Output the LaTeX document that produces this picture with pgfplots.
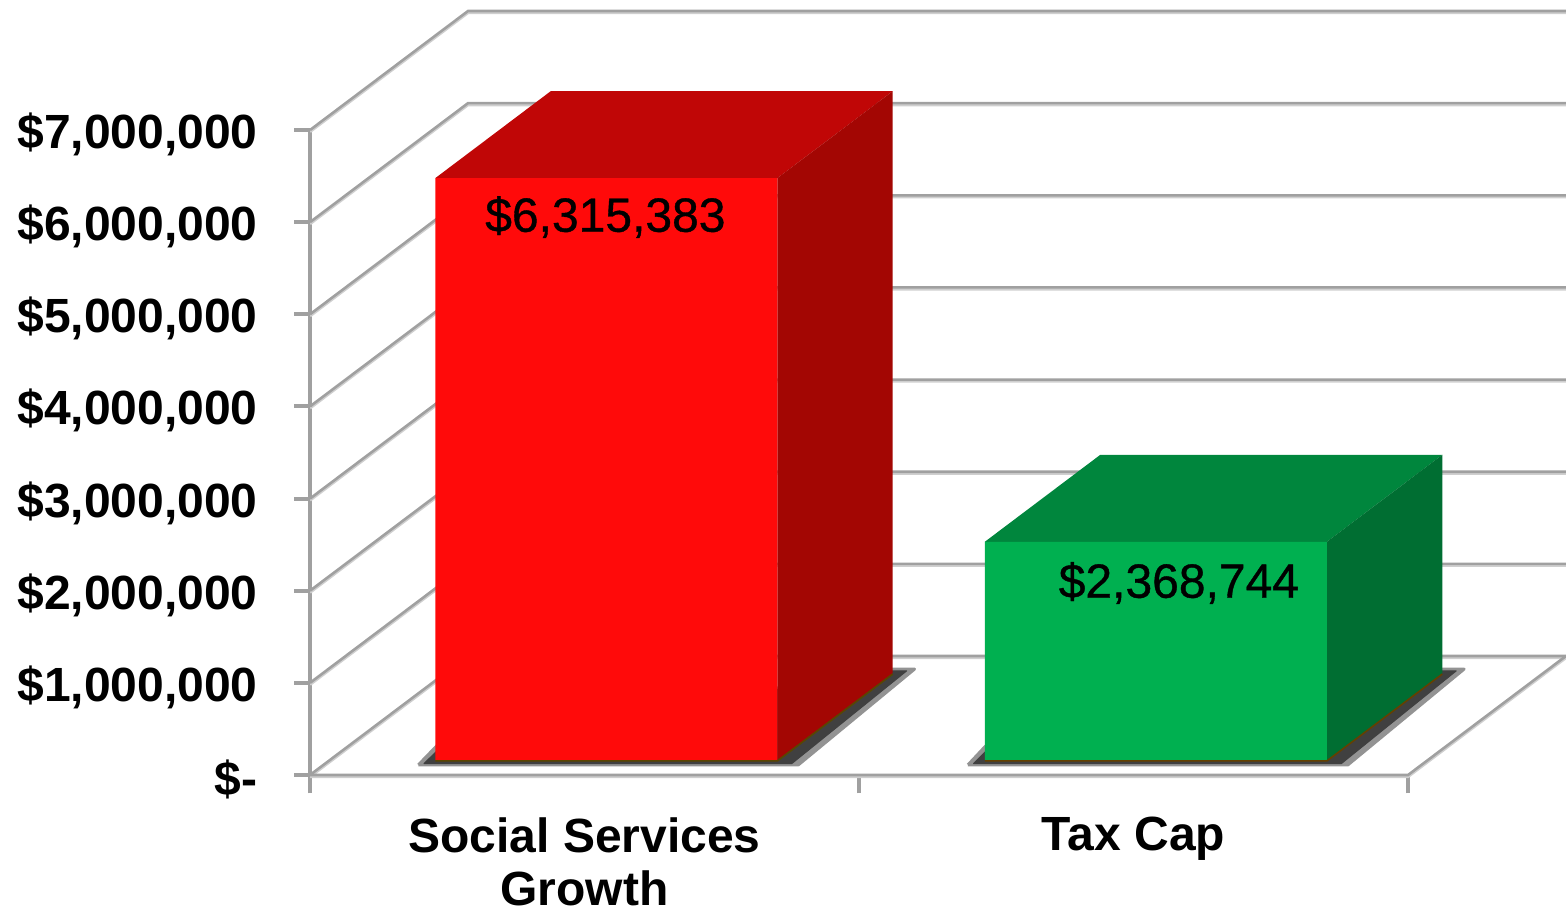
\documentclass[border=0pt]{standalone}
\usepackage{fontspec}
\setmainfont{Liberation Sans}
\newfontfamily\datafont[FakeBold=0.8]{Liberation Sans}
\usepackage{pgfplots}
\pgfplotsset{compat=1.18}
\definecolor{gridD}{HTML}{A0A0A0}
\definecolor{gridL}{HTML}{CFCFCF}
\definecolor{redF}{HTML}{FF0A0A}
\definecolor{redT}{HTML}{C00606}
\definecolor{redS}{HTML}{A30603}
\definecolor{grnF}{HTML}{00B050}
\definecolor{grnT}{HTML}{00863D}
\definecolor{grnS}{HTML}{006E32}
\newcommand{\grid}[1]{%
  \addplot3[gridL,line width=1.5pt,yshift=-0.8pt] coordinates {#1};
  \addplot3[gridD,line width=1.3pt] coordinates {#1};
}
\begin{document}
\begin{tikzpicture}
\begin{axis}[
  x={(274.5pt,0pt)}, y={(79pt,59.5pt)}, z={(0pt,46.07pt)},
  xmin=0.5, xmax=2.5, ymin=0, ymax=1, zmin=0, zmax=7,
  clip=false,
  axis line style={draw=none},
  major tick length=0pt,
  tick style={draw=none},
  no markers,
  xtick={1,2}, ytick=\empty,
  xticklabels={{Social Services\\Growth},{Tax Cap}},
  ztick={0,1,2,3,4,5,6,7},
  zticklabels={{\$-},{\$1,000,000},{\$2,000,000},{\$3,000,000},{\$4,000,000},{\$5,000,000},{\$6,000,000},{\$7,000,000}},
  ticklabel style={font=\fontsize{24}{26.5}\selectfont\bfseries,text=black,inner sep=0pt},
  zticklabel style={anchor=east,xshift=-26pt,yshift=-2.2pt},
  xticklabel style={align=center,anchor=north,yshift=-21pt},
]
\coordinate (o) at (axis cs:0.5,0,0);
% tick marks and axis edges
\addplot3[gridD,line width=1.7pt] coordinates {(0.5,0,-0.2)(0.5,0,7)};
\addplot3[gridD,line width=1.7pt] coordinates {(1.5,0,-0.2)(1.5,0,0)};
\addplot3[gridD,line width=1.7pt] coordinates {(2.5,0,-0.2)(2.5,0,0)};
% grid on the walls
\grid{(0.5,0,0)(0.5,1,0)(2.5,1,0)}
\grid{(0.5,0,1)(0.5,1,1)(2.5,1,1)}
\grid{(0.5,0,2)(0.5,1,2)(2.5,1,2)}
\grid{(0.5,0,3)(0.5,1,3)(2.5,1,3)}
\grid{(0.5,0,4)(0.5,1,4)(2.5,1,4)}
\grid{(0.5,0,5)(0.5,1,5)(2.5,1,5)}
\grid{(0.5,0,6)(0.5,1,6)(2.5,1,6)}
\grid{(0.5,0,7)(0.5,1,7)(2.5,1,7)}
\grid{(0.5,0,0)(2.5,0,0)(2.5,1,0)}
% z ticks
\addplot3[gridD,line width=2pt] coordinates {(0.471,0,0)(0.5,0,0)};
\addplot3[gridD,line width=2pt] coordinates {(0.471,0,1)(0.5,0,1)};
\addplot3[gridD,line width=2pt] coordinates {(0.471,0,2)(0.5,0,2)};
\addplot3[gridD,line width=2pt] coordinates {(0.471,0,3)(0.5,0,3)};
\addplot3[gridD,line width=2pt] coordinates {(0.471,0,4)(0.5,0,4)};
\addplot3[gridD,line width=2pt] coordinates {(0.471,0,5)(0.5,0,5)};
\addplot3[gridD,line width=2pt] coordinates {(0.471,0,6)(0.5,0,6)};
\addplot3[gridD,line width=2pt] coordinates {(0.471,0,7)(0.5,0,7)};
% shadows on the floor
\addplot3[fill=gray!85,draw=gray!85,line width=1.5pt,line join=round] coordinates {(0.673,0.085,0)(1.365,0.085,0)(1.345,0.89,0)(1.30,0.89,0)(0.66,0.25,0)(0.673,0.085,0)};
\addplot3[fill=black!75,draw=black!75,line width=0.5pt,line join=round] coordinates {(0.68,0.095,0)(1.35,0.095,0)(1.335,0.875,0)(1.30,0.875,0)(0.67,0.25,0)(0.68,0.095,0)};
\addplot3[fill=gray!85,draw=gray!85,line width=1.5pt,line join=round] coordinates {(1.674,0.085,0)(2.366,0.085,0)(2.346,0.89,0)(2.30,0.89,0)(1.66,0.25,0)(1.674,0.085,0)};
\addplot3[fill=black!75,draw=black!75,line width=0.5pt,line join=round] coordinates {(1.681,0.095,0)(2.351,0.095,0)(2.336,0.875,0)(2.30,0.875,0)(1.67,0.25,0)(1.681,0.095,0)};
% Social Services Growth: 6,315,383
\addplot3[draw=none,fill=redT] coordinates {(0.692,0.126,6.315383)(1.315,0.126,6.315383)(1.315,0.856,6.315383)(0.692,0.856,6.315383)(0.692,0.126,6.315383)};
\addplot3[draw=none,fill=redS] coordinates {(1.315,0.126,0)(1.315,0.856,0)(1.315,0.856,6.315383)(1.315,0.126,6.315383)(1.315,0.126,0)};
\addplot3[draw=none,fill=redF] coordinates {(0.692,0.126,0)(1.315,0.126,0)(1.315,0.126,6.315383)(0.692,0.126,6.315383)(0.692,0.126,0)};
\addplot3[color={rgb,255:red,90;green,70;blue,0},line width=0.8pt] coordinates {(0.692,0.126,-0.01)(1.315,0.126,-0.01)(1.315,0.856,-0.01)};
% Tax Cap: 2,368,744
\addplot3[draw=none,fill=grnT] coordinates {(1.693,0.126,2.368744)(2.316,0.126,2.368744)(2.316,0.856,2.368744)(1.693,0.856,2.368744)(1.693,0.126,2.368744)};
\addplot3[draw=none,fill=grnS] coordinates {(2.316,0.126,0)(2.316,0.856,0)(2.316,0.856,2.368744)(2.316,0.126,2.368744)(2.316,0.126,0)};
\addplot3[draw=none,fill=grnF] coordinates {(1.693,0.126,0)(2.316,0.126,0)(2.316,0.126,2.368744)(1.693,0.126,2.368744)(1.693,0.126,0)};
\addplot3[color={rgb,255:red,100;green,65;blue,0},line width=0.8pt] coordinates {(1.693,0.126,-0.01)(2.316,0.126,-0.01)(2.316,0.856,-0.01)};
% data labels
\node[font=\fontsize{24}{26}\selectfont\datafont,text=black,inner sep=0pt] at (axis cs:1.0018,0.126,5.893) {\$6,315,383};
\node[font=\fontsize{24}{26}\selectfont\datafont,text=black,inner sep=0pt] at (axis cs:2.0464,0.126,1.921) {\$2,368,744};
\end{axis}
\pgfresetboundingbox
\path ([shift={(-155pt,-67.5pt)}]o) rectangle ([shift={(628pt,387.5pt)}]o);
\end{tikzpicture}
\end{document}
